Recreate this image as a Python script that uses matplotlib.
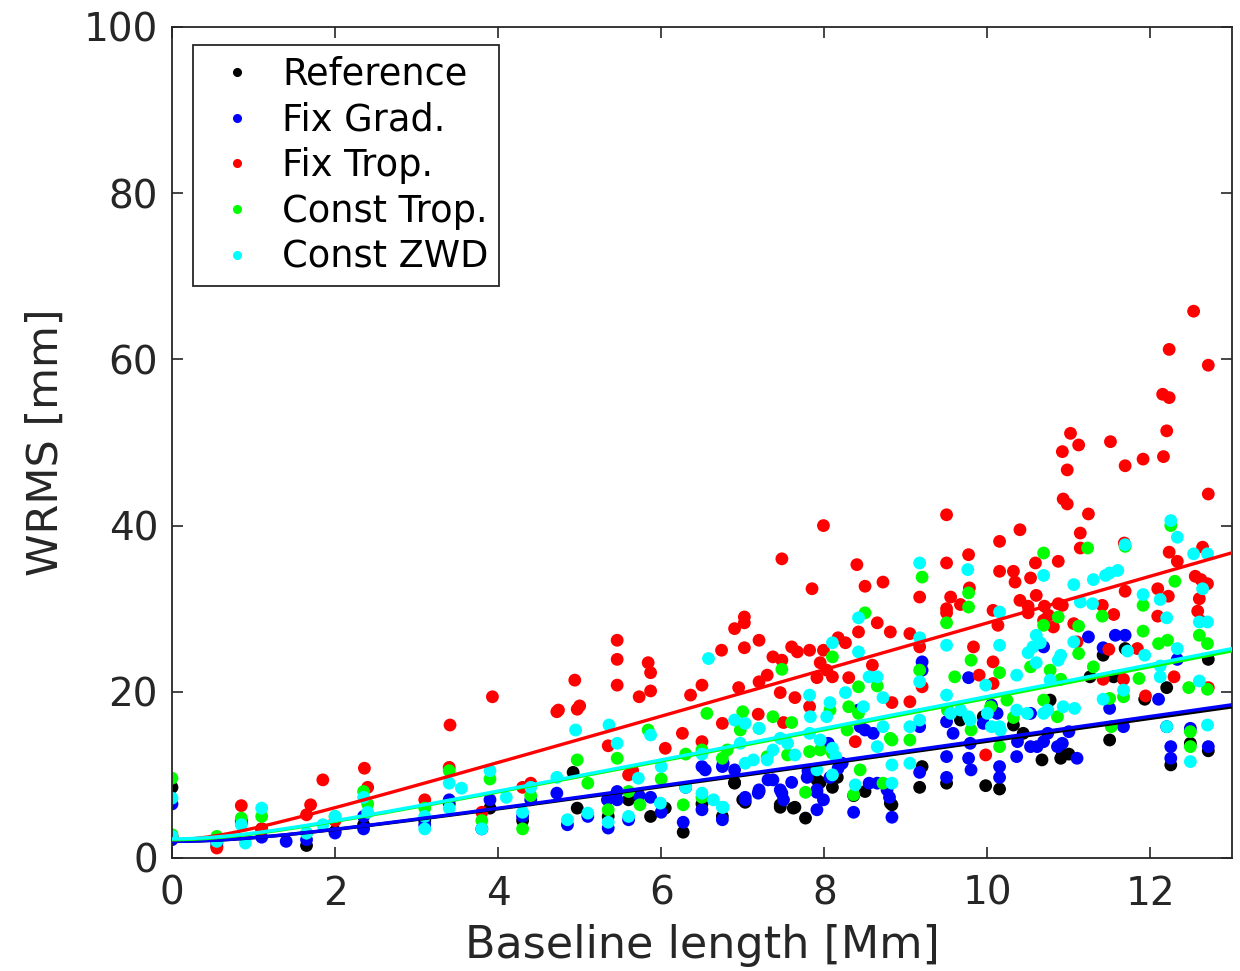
import numpy as np
import matplotlib
matplotlib.use("Agg")
import matplotlib.pyplot as plt
from matplotlib.lines import Line2D

# ---- data (baseline length [Mm], WRMS [mm]) ----
ref_x = [0, 0, 0.55, 0.85, 1.1, 1.65, 2.0, 2.35, 3.1, 3.4, 3.9, 4.3, 4.92, 4.97, 5.35,
         5.6, 5.87, 6.05, 6.27, 6.5, 6.75, 6.9, 7.03, 7.2, 7.46, 7.64, 7.77, 7.95, 8.1,
         8.36, 8.5, 8.83, 9.17, 9.2, 9.5, 9.67, 9.98, 10.15, 10.32, 10.67, 10.9, 10.92,
         11.0, 11.26, 11.42, 11.5, 11.55, 11.69, 11.93, 12.2, 12.25, 12.49, 12.71, 12.71,
         6.9, 7.0, 7.46, 7.62, 7.91, 8.16, 8.81, 10.44, 10.77, 9.95]
ref_y = [8.5, 2.5, 1.4, 4.5, 3.5, 1.5, 3.2, 4.0, 4.5, 6.5, 6.0, 4.5, 10.3, 6.0, 5.0,
         7.0, 5.0, 6.0, 3.1, 6.5, 5.0, 9.1, 6.7, 8.0, 6.1, 6.1, 4.8, 9.1, 8.5,
         7.5, 8.0, 6.4, 8.5, 11.0, 9.0, 16.6, 8.7, 8.3, 16.0, 11.8, 12.0, 12.5,
         12.5, 21.8, 24.4, 14.2, 21.8, 25.2, 19.1, 20.5, 11.2, 13.8, 12.9, 23.9,
         9.0, 7.0, 6.4, 6.0, 9.4, 9.7, 6.6, 15.0, 19.0, 17.0]

grad_x = [0, 0, 0.55, 0.85, 1.1, 1.4, 1.65, 2.0, 2.35, 2.35, 3.1, 3.4, 3.8, 3.9, 4.3,
          4.4, 4.72, 4.85, 5.1, 5.35, 5.46, 5.6, 5.73, 5.87, 6.0, 6.27, 6.3, 6.5, 6.54,
          6.75, 6.75, 7.03, 7.2, 7.37, 7.48, 7.6, 7.8, 7.91, 7.91, 8.05, 8.17, 8.36,
          8.42, 8.5, 8.55, 8.8, 8.83, 9.17, 9.2, 9.2, 9.17, 9.5, 9.5, 9.5, 9.77, 9.8,
          9.77, 10.05, 10.15, 10.15, 10.36, 10.53, 10.69, 10.69, 10.92, 11.0, 11.1,
          11.24, 11.42, 11.57, 11.69, 11.5, 11.67, 12.1, 12.2, 12.25, 12.25, 12.33,
          12.49, 12.71,
          6.76, 6.9, 7.03, 7.19, 7.31, 7.46, 7.5, 7.79, 7.91, 7.99, 8.07, 8.22, 8.44,
          8.6, 8.65, 8.77, 9.58, 9.79, 9.95, 10.12, 10.37, 10.61, 10.74, 10.86, 10.53,
          5.34, 5.46, 6.5]
grad_y = [6.5, 2.2, 1.8, 4.2, 2.5, 2.0, 2.2, 3.0, 3.5, 5.0, 4.0, 7.0, 3.5, 7.0, 5.0,
          7.0, 7.8, 4.0, 5.0, 3.6, 8.0, 4.6, 7.5, 7.3, 5.5, 4.3, 8.5, 5.8, 10.6,
          4.6, 11.0, 7.3, 8.2, 9.4, 7.8, 9.1, 10.5, 7.9, 5.8, 13.8, 10.8, 5.5,
          17.8, 15.4, 9.0, 7.3, 4.9, 15.8, 23.6, 22.6, 10.3, 16.4, 12.2, 9.7, 12.0, 10.6,
          21.7, 18.4, 11.0, 9.7, 12.2, 13.4, 14.0, 25.4, 13.8, 15.2, 12.0,
          26.6, 25.3, 26.8, 26.8, 18.0, 15.8, 19.1, 15.8, 13.4, 12.0, 23.9,
          15.6, 13.4,
          11.4, 10.6, 7.0, 7.8, 9.4, 8.2, 7.0, 9.7, 8.2, 7.0, 9.7, 11.4, 15.8,
          15.0, 9.0, 8.2, 15.0, 13.8, 16.2, 17.4, 14.0, 13.4, 15.0, 13.4, 17.4,
          7.0, 7.0, 11.0]

trop_x = [0, 0.55, 0.85, 1.1, 1.65, 1.7, 1.85, 2.0, 2.36, 2.4, 3.1, 3.4, 3.41, 3.8,
          3.93, 4.3, 4.4, 4.72, 4.74, 4.94, 4.97, 5.0, 5.35, 5.46, 5.46, 5.46, 5.6,
          5.65, 5.73, 5.84, 5.87, 5.87, 6.05, 6.26, 6.36, 6.5, 6.5, 6.74, 6.75, 6.9,
          6.95, 7.02, 7.02, 7.02, 7.19, 7.2, 7.2, 7.3, 7.37, 7.46, 7.48, 7.48, 7.5,
          7.6, 7.64, 7.67, 7.82, 7.82, 7.85, 7.91, 7.95, 7.99, 7.99, 8.03, 8.1, 8.17,
          8.26, 8.3, 8.38, 8.4, 8.42, 8.5, 8.59, 8.65, 8.72, 8.81, 8.83, 9.05, 9.05,
          9.17, 9.17, 9.2, 9.5, 9.5, 9.5, 9.5, 9.55, 9.67, 9.77, 9.78, 9.83, 9.9,
          9.98, 10.07, 10.13, 10.07, 10.07, 10.15, 10.15, 10.32, 10.34, 10.4, 10.4,
          10.5, 10.5, 10.53, 10.59, 10.6, 10.69, 10.7, 10.75, 10.81, 10.87, 10.87,
          10.92, 10.98, 10.93, 10.98, 11.02, 11.12, 11.24, 11.14, 11.14, 10.92, 11.06,
          11.1, 11.41, 11.55, 11.49, 11.42, 11.51, 11.69, 11.91, 12.16, 11.68, 11.69,
          11.84, 11.67, 11.94, 12.09, 12.09, 12.22, 12.23, 12.33, 12.15, 12.23, 12.2,
          12.23, 12.29, 12.53, 12.71, 12.71, 12.64, 12.55, 12.62, 12.7, 12.58, 12.6,
          12.62, 12.71]
trop_y = [2.6, 1.2, 6.3, 3.5, 5.2, 6.4, 9.4, 4.5, 10.8, 8.5, 7.0, 10.9, 16.0, 5.5,
          19.4, 8.5, 9.0, 17.6, 17.8, 21.4, 17.9, 18.3, 13.5, 26.2, 23.9, 20.8, 10.0,
          10.5, 19.4, 23.5, 22.3, 20.1, 13.2, 15.0, 19.6, 20.8, 14.0, 25.0, 16.2, 27.6,
          20.5, 29.0, 28.3, 25.3, 17.3, 26.2, 21.2, 22.0, 24.2, 19.9, 36.0, 23.8, 16.3,
          25.4, 19.3, 24.8, 25.0, 18.2, 32.4, 21.7, 23.5, 40.0, 25.0, 22.6, 21.8, 26.5,
          25.9, 21.7, 14.0, 35.3, 27.2, 32.7, 23.2, 28.3, 33.2, 27.2, 18.7, 27.0, 18.8,
          31.4, 25.4, 20.6, 41.3, 35.5, 30.0, 29.5, 31.4, 30.5, 36.5, 32.5, 25.4, 22.0,
          12.4, 29.8, 28.0, 23.6, 21.0, 38.1, 34.5, 34.5, 33.2, 39.5, 31.0,
          30.3, 29.5, 33.7, 35.5, 31.6, 28.6, 30.3, 29.2, 27.8, 35.7, 30.6,
          48.9, 46.7, 43.2, 42.6, 51.1, 49.7, 41.4, 39.1, 37.3, 30.4, 28.2,
          26.0, 30.4, 29.3, 25.1, 21.5, 50.1, 47.2, 48.0, 48.3, 37.9, 32.1,
          25.2, 21.5, 19.5, 32.4, 29.1, 31.5, 36.8, 35.7, 55.8, 55.4, 51.4,
          61.2, 21.8, 65.8, 59.3, 43.8, 37.4, 33.9, 33.5, 33.0, 29.7, 31.2,
          28.5, 20.5]

ctrop_x = [0, 0, 0.55, 0.85, 1.1, 1.65, 2.0, 2.35, 2.4, 3.1, 3.4, 3.8, 3.9, 4.3, 4.4,
           4.97, 5.1, 5.35, 5.46, 5.6, 5.84, 6.0, 6.27, 6.3, 6.56, 6.5, 6.75, 7.0, 7.37,
           7.2, 7.48, 7.6, 7.77, 7.82, 8.1, 8.1, 8.3, 8.36, 8.42, 8.42, 8.5, 8.65, 8.81,
           8.83, 9.05, 9.2, 9.17, 9.5, 9.6, 9.77, 9.77, 9.8, 9.8, 10.15, 10.15, 10.32,
           10.53, 10.69, 10.69, 10.87, 10.9, 11.12, 11.12, 11.23, 11.41, 11.3, 11.67,
           11.5, 11.52, 11.69, 11.86, 11.91, 11.91, 12.1, 12.21, 12.25, 12.3, 12.47,
           12.49, 12.49, 12.6, 12.7, 12.7,
           6.81, 6.97, 7.3, 7.55, 7.95, 8.07, 8.28, 8.44, 8.72, 9.51, 10.04, 10.24,
           10.69, 10.86, 10.77, 5.74, 6.5]
ctrop_y = [9.6, 2.8, 2.6, 4.8, 5.0, 3.0, 5.0, 8.0, 6.5, 6.0, 10.5, 4.5, 9.5, 3.5, 7.5,
           11.8, 9.0, 5.8, 12.0, 8.0, 15.4, 9.5, 6.4, 12.5, 17.4, 13.0, 12.0, 17.6, 17.0,
           15.6, 22.7, 16.3, 7.9, 12.8, 24.2, 12.6, 18.2, 7.6, 20.6, 17.4, 29.5, 20.7, 14.4,
           14.2, 14.2, 33.8, 22.6, 28.3, 21.8, 31.9, 30.2, 23.8, 15.4, 22.3, 13.4, 16.9,
           23.0, 36.7, 28.0, 29.0, 21.5, 27.9, 24.6, 37.3, 29.1, 23.0, 19.4,
           19.2, 15.8, 37.5, 21.6, 30.4, 27.3, 25.8, 26.2, 40.0, 33.3, 20.5,
           13.4, 15.2, 26.8, 25.8, 20.3,
           13.0, 15.4, 12.2, 12.4, 13.0, 17.8, 15.4, 10.6, 9.0, 17.8, 18.2, 19.0,
           19.0, 17.0, 22.6, 6.4, 7.3]

czwd_x = [0, 0, 0.55, 0.85, 0.9, 1.1, 1.65, 1.85, 2.0, 2.35, 2.4, 3.1, 3.1, 3.4, 3.4,
          3.55, 3.8, 3.9, 4.1, 4.3, 4.4, 4.72, 4.85, 4.95, 5.1, 5.35, 5.36, 5.46, 5.6,
          5.87, 6.0, 6.3, 6.58, 6.5, 6.75, 6.9, 7.03, 7.03, 7.2, 7.3, 7.46, 7.64, 7.82,
          7.82, 7.91, 8.03, 8.1, 8.1, 8.1, 8.26, 8.38, 8.42, 8.42, 8.55, 8.65, 8.72,
          8.72, 8.83, 8.83, 9.05, 9.05, 9.17, 9.17, 9.17, 9.17, 9.5, 9.5, 9.76, 9.77,
          9.98, 10.05, 10.15, 10.15, 10.15, 10.36, 10.36, 10.5, 10.6, 10.65, 10.6,
          10.69, 10.69, 10.87, 10.9, 11.06, 11.07, 11.06, 11.14, 11.29, 11.3, 11.45,
          11.5, 11.6, 11.69, 11.67, 11.42, 11.72, 11.91, 11.93, 12.12, 12.12, 12.12,
          12.2, 12.2, 12.25, 12.33, 12.33, 12.49, 12.53, 12.7, 12.64, 12.6, 12.7,
          12.6, 12.7,
          6.97, 7.13, 7.37, 7.55, 7.83, 7.95, 8.07, 8.14, 8.48, 8.65, 9.55, 9.67,
          9.79, 10.0, 10.16, 10.49, 10.74, 10.93, 10.77, 10.56, 5.72, 5.99, 6.5,
          6.64, 6.76]
czwd_y = [7.2, 2.6, 2.0, 4.0, 1.8, 6.0, 3.0, 4.0, 5.0, 7.3, 5.5, 5.0, 3.5, 9.0, 6.0,
          8.4, 3.5, 10.5, 7.3, 5.5, 8.5, 9.7, 4.6, 15.4, 5.4, 4.3, 16.0, 13.8, 5.0,
          14.8, 11.0, 8.5, 24.0, 12.5, 6.1, 16.6, 16.2, 11.4, 15.6, 11.8, 14.4, 12.4, 19.6,
          15.0, 10.6, 17.0, 10.0, 13.2, 25.9, 19.9, 8.8, 28.9, 24.8, 21.8, 21.8, 19.3,
          15.8, 11.2, 9.0, 11.4, 15.8, 35.5, 26.5, 21.2, 16.6, 25.6, 19.6, 34.7, 17.0,
          20.8, 15.8, 29.6, 25.6, 15.8, 22.0, 17.8, 24.7, 26.8, 25.9, 23.5,
          34.0, 17.4, 23.8, 24.4, 26.0, 18.0, 32.9, 30.8, 30.6, 33.5, 34.0,
          34.3, 34.6, 37.7, 20.2, 19.1, 24.9, 31.7, 24.4, 31.1, 23.1, 21.8,
          28.9, 15.8, 40.6, 38.6, 25.2, 11.6, 36.6, 36.6, 32.4, 28.4, 28.4,
          21.3, 16.0,
          13.8, 11.8, 13.0, 13.8, 17.0, 14.2, 18.7, 12.2, 18.2, 13.4, 17.4, 17.8,
          16.6, 17.4, 15.4, 17.4, 17.8, 18.2, 21.4, 25.4, 9.6, 6.6, 7.8,
          7.0, 6.1]

labels = ["Reference", "Fix Grad.", "Fix Trop.", "Const Trop.", "Const ZWD"]
colors = ["#000000", "#0000ff", "#ff0000", "#00ff00", "#00ffff"]
# fitted curves WRMS = sqrt(a^2 + (b*L)^2)
fit_a = [2.0, 2.0, 2.2, 2.2, 2.3]
fit_b = [1.39, 1.41, 2.82, 1.91, 1.93]

series = [(ref_x, ref_y), (grad_x, grad_y), (trop_x, trop_y),
          (ctrop_x, ctrop_y), (czwd_x, czwd_y)]

dark = "#262626"
plt.rcParams["font.family"] = "DejaVu Sans"

fig = plt.figure(figsize=(12.4, 9.71), dpi=100)
ax = fig.add_axes([0.1387, 0.1164, 0.8548, 0.8558])

for (x, y), c in zip(series, colors):
    ax.scatter(x, y, s=85, color=c, edgecolors="none", zorder=2)

L = np.linspace(0, 13, 300)
for a, b, c in zip(fit_a, fit_b, colors):
    ax.plot(L, np.sqrt(a**2 + (b * L)**2), color=c, lw=2.4, zorder=3)

ax.set_xlim(0, 13)
ax.set_ylim(0, 100)
ax.set_xticks(range(0, 13, 2))
ax.set_yticks(range(0, 101, 20))
ax.tick_params(direction="in", length=8, width=1.2, top=True, right=True,
               labelsize=28, colors=dark)
ax.tick_params(axis="x", pad=12)
ax.tick_params(axis="y", pad=10)
for sp in ax.spines.values():
    sp.set_edgecolor(dark)
    sp.set_linewidth(1.3)
ax.set_xlabel("Baseline length [Mm]", fontsize=32, color=dark, labelpad=8)
ax.set_ylabel("WRMS [mm]", fontsize=31, color=dark, labelpad=12)

handles = [Line2D([], [], marker="o", ls="none", color=c, markersize=5.5) for c in colors]
leg = ax.legend(handles, labels, loc="upper left", bbox_to_anchor=(0.0198, 0.978),
                fontsize=26.5, labelspacing=0.24, handletextpad=0.3, handlelength=1.85,
                borderpad=0.28, borderaxespad=0, fancybox=False, framealpha=1)
leg.get_frame().set_edgecolor(dark)
leg.get_frame().set_linewidth(1.3)
for t in leg.get_texts():
    t.set_color("#000000")

fig.savefig("out.png", dpi=100)
